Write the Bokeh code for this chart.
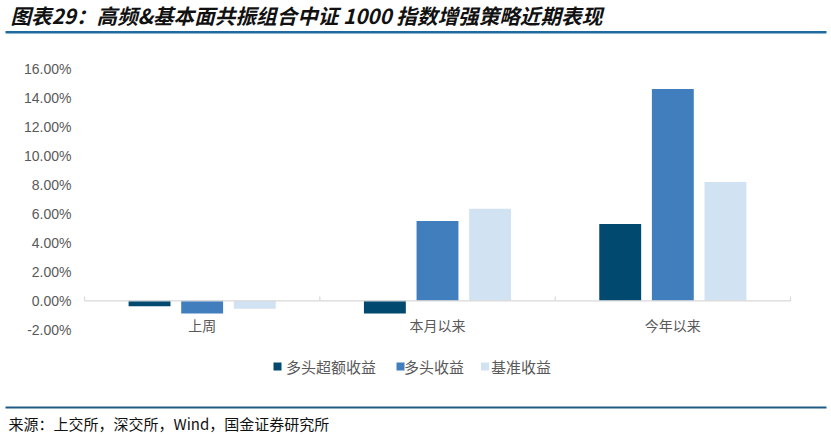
from bokeh.plotting import figure
from bokeh.models import Range1d, FixedTicker, PrintfTickFormatter
from bokeh.core.properties import value
from bokeh.embed import file_html
from bokeh.resources import INLINE

# ---------------- data ----------------
categories = ["上周", "本月以来", "今年以来"]
series_names = ["多头超额收益", "多头收益", "基准收益"]
excess = [-0.37, -0.87, 5.30]      # 多头超额收益 (%)
long_ret = [-0.87, 5.50, 14.60]    # 多头收益 (%)
bench = [-0.55, 6.35, 8.20]        # 基准收益 (%)
y_ticks = [-2, 0, 2, 4, 6, 8, 10, 12, 14, 16]
title_text = "图表29：高频&基本面共振组合中证 1000 指数增强策略近期表现"
source_text = "来源：上交所，深交所，Wind，国金证券研究所"

colors = ["#01496f", "#407ebd", "#d1e2f2"]
CJK = value("Noto Sans CJK SC")

# ---------------- geometry (canvas pixels) ----------------
W, H = 831, 436
PL, PR = 84, 790            # plot area left / right
Y16, YM2 = 68.3, 329.3      # canvas y of 16% and -2%
PX_PER_PCT = (YM2 - Y16) / 18.0
PX_PER_X = (PR - PL) / 3.0


def dx(cx):
    return (cx - PL) / PX_PER_X


def dy(cy):
    return 16 - (cy - Y16) / PX_PER_PCT


p = figure(width=W, height=H, output_backend="svg", toolbar_location=None,
           x_range=Range1d(dx(0), dx(W)), y_range=Range1d(dy(H), dy(0)),
           min_border=0)
p.outline_line_color = None
p.grid.visible = False
p.xaxis.visible = False
ya = p.yaxis[0]
ya.fixed_location = 0
ya.ticker = FixedTicker(ticks=y_ticks)
ya.formatter = PrintfTickFormatter(format="%.2f%%")
ya.axis_line_color = None
ya.major_tick_line_color = None
ya.minor_tick_line_color = None
ya.major_tick_out = 0
ya.major_tick_in = 0
ya.major_label_standoff = 13
ya.major_label_text_font = "Liberation Sans"
ya.major_label_text_font_size = "14px"
ya.major_label_text_color = "#595959"

# ---------------- bars ----------------
groups = [i + 0.5 for i in range(len(categories))]
offsets = [-0.2236, 0.0, 0.2236]
bar_w = 0.178
for vals, off, col in zip([excess, long_ret, bench], offsets, colors):
    p.vbar(x=[g + off for g in groups], top=vals, bottom=0, width=bar_w,
           fill_color=col, line_color=None)

# category axis line at zero with ticks between categories
p.segment(x0=[0], y0=[0], x1=[3], y1=[0], line_color="#d9d9d9", line_width=1.2)
p.segment(x0=[0, 1, 2, 3], y0=[0] * 4, x1=[0, 1, 2, 3], y1=[0.3] * 4,
          line_color="#d9d9d9", line_width=1.2)
p.text(x=groups, y=[dy(324)] * 3, text=categories, text_font=CJK,
       text_font_size="14px", text_color="#595959",
       text_align="center", text_baseline="middle")

# ---------------- legend ----------------
sq_cx = [277, 400, 484.5]
tx_cx = [285.5, 403.5, 490.5]
ly = dy(366)
p.rect(x=[dx(c) for c in sq_cx], y=[ly] * 3, width=8 / PX_PER_X,
       height=8 / PX_PER_PCT, fill_color=colors, line_color=None)
p.text(x=[dx(c) for c in tx_cx], y=[ly] * 3, text=series_names,
       text_font=CJK, text_font_size="15px", text_color="#595959",
       text_align="left", text_baseline="middle")

# ---------------- title & source ----------------
p.text(x=[dx(10)], y=[dy(14.5)], text=[title_text], text_font=CJK,
       text_font_size="20.6px", text_font_style="bold italic",
       text_color="#111111", text_baseline="middle", text_align="left")
p.segment(x0=[dx(5)], y0=[dy(31.7)], x1=[dx(826)], y1=[dy(31.7)],
          line_color="#1f6a9e", line_width=2.5)
p.segment(x0=[dx(5)], y0=[dy(407)], x1=[dx(826)], y1=[dy(407)],
          line_color="#1f5a85", line_width=2)
p.text(x=[dx(8)], y=[dy(423)], text=[source_text], text_font=CJK,
       text_font_size="15px", text_color="#111111",
       text_baseline="middle", text_align="left")

open("out.html", "w").write(file_html(p, INLINE))
